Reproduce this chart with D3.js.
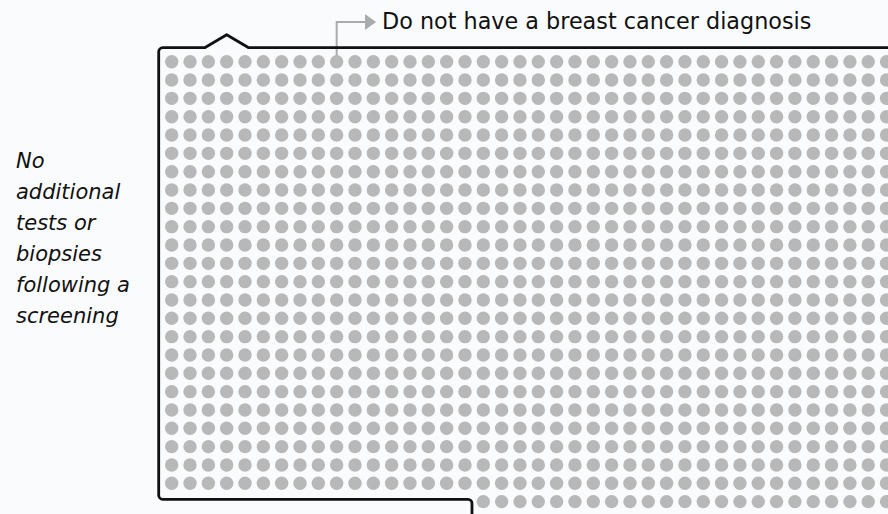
<!DOCTYPE html>
<html>
<head>
<meta charset="utf-8">
<script src="https://cdn.jsdelivr.net/npm/d3@7"></script>
<style>
    html, body { margin: 0; padding: 0; background: #fafbfc; overflow: hidden; }
    #chart svg { display: block; }
</style>
</head>
<body>
<div id="chart"></div>
<script>
// Waffle grid: one dot per person, column/row indices
const columns = [0, 1, 2, 3, 4, 5, 6, 7, 8, 9, 10, 11, 12, 13, 14, 15, 16, 17, 18, 19,
                 20, 21, 22, 23, 24, 25, 26, 27, 28, 29, 30, 31, 32, 33, 34, 35, 36, 37, 38, 39];
const rows = [0, 1, 2, 3, 4, 5, 6, 7, 8, 9, 10, 11, 12, 13, 14, 15, 16, 17, 18, 19, 20, 21, 22, 23, 24];
// first filled column of each row (last row only partly filled)
const rowFirstColumn = [0, 0, 0, 0, 0, 0, 0, 0, 0, 0, 0, 0, 0, 0, 0, 0, 0, 0, 0, 0, 0, 0, 0, 0, 17];

const groupLabel = "Do not have a breast cancer diagnosis";
const sideLabel = ["No", "additional", "tests or", "biopsies", "following a", "screening"];
const labelColumn = 9;   // dot the arrow points from
const bumpColumn = 3;    // peak of the bracket on top

function createWaffle() {
    const width = 888;
    const height = 514;

    const svg = d3.select("#chart")
        .append("svg")
        .attr("width", width)
        .attr("height", height);

    // Scales
    const x = d3.scaleLinear()
        .domain([0, columns.length - 1])
        .range([171.7, 171.7 + (columns.length - 1) * 18.33]);

    const y = d3.scaleLinear()
        .domain([0, rows.length - 1])
        .range([61.7, 61.7 + (rows.length - 1) * 18.33]);

    // Build the dots
    const dots = [];
    rows.forEach(r => {
        columns.forEach(c => {
            if (c >= rowFirstColumn[r]) dots.push({ r, c });
        });
    });

    // Arrow from a dot to the label
    const ax = x(labelColumn);
    const ay = 22;
    svg.append("path")
        .attr("d", `M${ax},${y(0)}V${ay}H366`)
        .attr("fill", "none")
        .attr("stroke", "#ababab")
        .attr("stroke-width", 2);
    svg.append("path")
        .attr("d", `M365,${ay - 8}L376,${ay}L365,${ay + 8}Z`)
        .attr("fill", "#ababab");

    svg.append("text")
        .attr("x", 382)
        .attr("y", 28.5)
        .attr("font-family", "DejaVu Sans, sans-serif")
        .attr("font-size", 22.3)
        .attr("fill", "#111")
        .text(groupLabel);

    // Dots
    svg.selectAll(".dot")
        .data(dots)
        .enter()
        .append("circle")
        .attr("class", "dot")
        .attr("cx", d => x(d.c))
        .attr("cy", d => y(d.r))
        .attr("r", 6.7)
        .attr("fill", "#b8b8b9");

    // Outline around the group
    const left = x(0) - 13;
    const top = y(0) - 14;
    const bottom = y(rows.length - 2) + 16;
    const turn = x(rowFirstColumn[rows.length - 1] - 1) + 7;
    const peak = x(bumpColumn);
    const rad = 4;
    const outline = d3.path();
    outline.moveTo(turn, height + 10);
    outline.lineTo(turn, bottom + rad);
    outline.arcTo(turn, bottom, turn - rad, bottom, rad);
    outline.lineTo(left + rad, bottom);
    outline.arcTo(left, bottom, left, bottom - rad, rad);
    outline.lineTo(left, top + rad);
    outline.arcTo(left, top, left + rad, top, rad);
    outline.lineTo(peak - 22, top);
    outline.lineTo(peak, top - 13);
    outline.lineTo(peak + 22, top);
    outline.lineTo(width + 10, top);

    svg.append("path")
        .attr("d", outline.toString())
        .attr("fill", "none")
        .attr("stroke", "#111")
        .attr("stroke-width", 2.8)
        .attr("stroke-linejoin", "round");

    // Side label
    svg.append("text")
        .attr("font-family", "DejaVu Sans, sans-serif")
        .attr("font-style", "italic")
        .attr("font-size", 21)
        .attr("fill", "#111")
        .selectAll("tspan")
        .data(sideLabel)
        .enter()
        .append("tspan")
        .attr("x", 16)
        .attr("y", (d, i) => 168.3 + i * 31)
        .text(d => d);
}

createWaffle();
</script>
</body>
</html>
